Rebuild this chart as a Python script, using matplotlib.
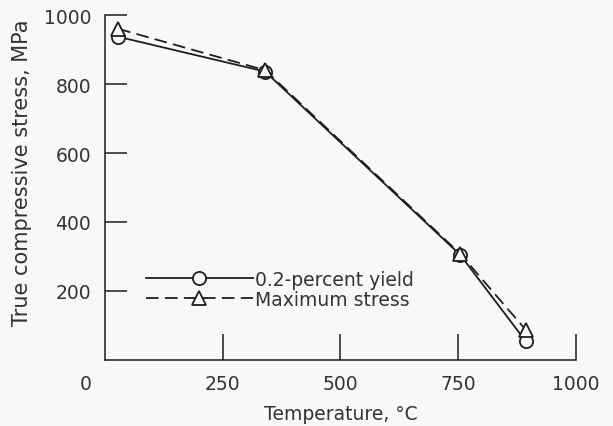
import matplotlib.pyplot as plt
from matplotlib.transforms import ScaledTranslation

# temperatures (deg C) and stresses (MPa)
temp_yield = [28, 340, 754, 893]
yield_stress = [937, 836, 305, 55]
temp_max = [28, 340, 754, 893]
max_stress = [960, 840, 308, 88]

x_ticks = [0, 250, 500, 750, 1000]
y_ticks = [200, 400, 600, 800, 1000]

plt.rcParams['font.family'] = ['DejaVu Sans']
bg = '#f8f8f8'
ink = '#1e1e1e'
txt = '#333333'

fig = plt.figure(figsize=(6.13, 4.27), dpi=100, facecolor=bg)
ax = fig.add_axes([0.1713, 0.1546, 0.9396 - 0.1713, 0.9625 - 0.1546])
ax.set_facecolor(bg)

ax.plot(temp_yield, yield_stress, color=ink, lw=1.3, marker='o', ms=9.5,
        mfc=bg, mec=ink, mew=1.3, label='0.2-percent yield', zorder=3)
ax.plot(temp_max, max_stress, color=ink, lw=1.3, dashes=(7, 3.5), marker='^',
        ms=9.5, mfc=bg, mec=ink, mew=1.3, label='Maximum stress', zorder=3)

ax.set_xlim(0, 1000)
ax.set_ylim(0, 1000)
ax.set_xticks(x_ticks)
ax.set_yticks(y_ticks)
for s in ['top', 'right']:
    ax.spines[s].set_visible(False)
for s in ['left', 'bottom']:
    ax.spines[s].set_linewidth(1.1)
    ax.spines[s].set_color(ink)

ax.tick_params(axis='y', direction='in', length=16, width=1.1, color=ink,
               labelsize=13.5, pad=10, labelcolor=txt)
ax.tick_params(axis='x', direction='in', length=19, width=1.1, color=ink,
               labelsize=13.5, pad=10, labelcolor=txt)
# the "0" label sits left of the corner in the original
lab0 = ax.get_xticklabels()[0]
lab0.set_transform(lab0.get_transform() + ScaledTranslation(-0.19, 0, fig.dpi_scale_trans))
ax.xaxis.get_major_ticks()[0].tick1line.set_visible(False)

ax.set_xlabel('Temperature, °C', fontsize=13.5, color=txt, labelpad=8)
ax.set_ylabel('True compressive stress, MPa', fontsize=15, color=txt)
ax.yaxis.set_label_coords(-0.155, 0.545)

ax.legend(loc='upper left', bbox_to_anchor=(0.087, 0.262), frameon=False,
          fontsize=13.5, handlelength=5.7, handletextpad=0.1, labelspacing=0.05,
          borderaxespad=0, borderpad=0, labelcolor=txt)

fig.savefig('out.png', dpi=100, facecolor=bg)
